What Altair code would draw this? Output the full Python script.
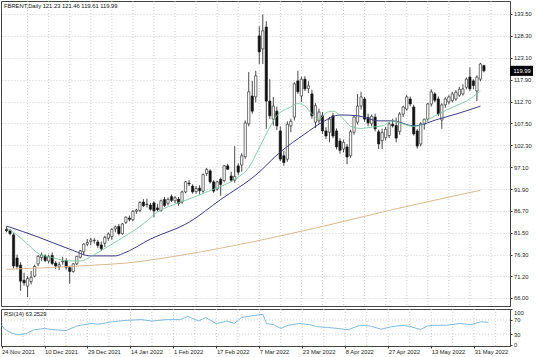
import altair as alt
import pandas as pd

title_text = "FBRENT,Daily  121.23 121.46 119.61 119.99"
rsi_text = "RSI(14) 63.2529"

opens = [82.3, 82.0, 81.0, 75.5, 73.8, 70.2, 68.8, 69.9, 71.2, 74.1,
         75.6, 76.0, 74.8, 76.1, 74.3, 73.4, 74.6, 74.9, 73.2, 72.3,
         74.1, 75.7, 77.0, 78.8, 79.4, 79.6, 79.3, 78.6, 79.0, 80.2,
         80.6, 82.4, 83.0, 81.3, 84.0, 85.0, 84.6, 86.6, 86.8, 88.8,
         88.2, 88.1, 88.6, 87.4, 86.8, 89.4, 88.5, 90.1, 89.1, 89.5,
         88.8, 91.2, 93.3, 92.6, 91.3, 92.1, 91.4, 95.6, 96.2, 93.6,
         91.9, 94.2, 93.9, 97.4, 95.0, 94.0, 97.4, 97.6, 99.6, 107.4,
         114.0, 113.8, 128.3, 125.2, 130.4, 112.8, 108.5, 110.4, 105.7, 99.8,
         99.0, 106.9, 109.0, 117.6, 114.0, 118.0, 115.8, 114.5, 107.8, 108.1,
         109.3, 105.7, 105.4, 109.3, 105.7, 103.3, 101.4, 101.9, 99.8, 105.4,
         107.8, 111.6, 113.3, 108.9, 107.4, 109.0, 105.5, 103.4, 104.1, 104.6,
         107.3, 107.0, 105.6, 109.7, 110.9, 113.3, 111.4, 105.7, 102.6, 107.3,
         108.5, 112.1, 114.5, 113.3, 108.3, 111.9, 112.6, 112.9, 113.3, 114.2,
         114.5, 116.1, 118.5, 117.6, 115.2, 118.0, 121.23]
highs = [83.0, 82.4, 81.4, 76.3, 74.5, 72.0, 71.2, 72.4, 73.9, 76.2,
         76.8, 76.4, 76.3, 76.8, 74.8, 74.6, 75.8, 75.4, 73.6, 74.3,
         76.0, 77.4, 79.0, 80.0, 80.3, 80.2, 79.8, 79.4, 80.8, 81.6,
         82.6, 83.2, 83.6, 83.8, 85.4, 85.6, 86.9, 87.2, 89.0, 89.5,
         89.6, 88.6, 89.0, 88.3, 89.4, 90.0, 89.9, 90.6, 90.2, 90.0,
         91.5, 93.8, 94.0, 93.0, 92.6, 92.8, 95.6, 96.9, 96.6, 94.0,
         93.9, 94.6, 97.6, 97.9, 96.0, 102.1, 98.0, 100.4, 108.2, 119.7,
         117.6, 120.0, 130.6, 133.4, 131.8, 118.0, 113.8, 111.5, 106.8, 101.0,
         108.0, 108.6, 117.3, 120.0, 118.6, 118.7, 117.5, 115.5, 112.3, 111.0,
         110.2, 106.6, 109.0, 110.0, 106.3, 104.0, 103.6, 102.6, 106.0, 109.2,
         114.5, 115.0, 113.8, 109.8, 109.6, 109.8, 106.0, 106.2, 106.7, 107.8,
         108.6, 108.9, 110.2, 111.7, 114.2, 113.9, 111.9, 106.2, 107.8, 108.6,
         112.4, 115.6, 114.9, 113.9, 112.3, 113.7, 114.2, 115.0, 115.4, 116.2,
         116.8, 118.4, 120.8, 118.0, 118.9, 121.9, 121.46]
lows = [81.6, 80.9, 73.0, 72.8, 67.7, 68.9, 66.2, 69.2, 70.9, 73.6,
        74.8, 74.5, 74.2, 73.8, 72.9, 72.6, 73.9, 72.7, 69.4, 72.0,
        73.8, 75.4, 76.2, 78.3, 78.5, 78.9, 77.9, 77.2, 78.1, 79.6,
        79.8, 81.6, 80.9, 81.0, 83.6, 84.2, 84.2, 86.0, 86.4, 87.6,
        87.5, 86.8, 85.2, 86.6, 86.5, 87.6, 88.0, 88.8, 88.5, 87.9,
        88.4, 90.9, 92.6, 90.8, 90.8, 90.6, 91.0, 95.0, 93.2, 91.0,
        91.5, 90.3, 93.5, 96.4, 93.6, 93.4, 95.2, 96.0, 99.0, 106.8,
        109.8, 112.5, 121.6, 121.6, 106.2, 108.5, 107.0, 105.9, 98.5, 97.4,
        98.4, 105.4, 108.2, 114.5, 112.6, 115.2, 114.7, 108.6, 106.4, 107.4,
        105.0, 103.8, 103.0, 104.0, 101.3, 100.3, 100.6, 97.8, 99.3, 104.8,
        107.2, 110.8, 107.9, 106.8, 106.8, 105.6, 101.4, 101.4, 103.4, 104.0,
        106.5, 103.0, 104.8, 109.0, 110.5, 111.6, 104.6, 101.5, 102.0, 106.0,
        108.0, 111.5, 112.5, 109.2, 106.2, 111.2, 112.0, 112.5, 112.9, 113.8,
        114.1, 115.6, 115.2, 115.6, 112.8, 117.5, 119.61]
closes = [82.0, 81.3, 73.6, 73.5, 70.0, 69.6, 70.6, 70.9, 73.5, 75.9,
          76.2, 74.9, 75.8, 74.2, 73.6, 73.9, 74.8, 73.3, 72.3, 74.1,
          75.9, 77.2, 78.8, 79.2, 79.8, 79.7, 78.5, 77.7, 80.4, 81.2,
          82.3, 82.9, 81.3, 83.6, 85.2, 84.7, 86.6, 86.9, 88.7, 87.9,
          88.3, 87.1, 86.7, 87.0, 89.1, 88.0, 89.4, 89.2, 89.8, 88.5,
          91.2, 93.6, 93.1, 91.2, 92.0, 91.5, 95.3, 96.5, 93.6, 91.4,
          93.6, 93.0, 97.4, 96.6, 94.0, 94.9, 95.9, 99.8, 107.6, 115.0,
          110.4, 118.8, 124.5, 129.5, 112.8, 109.3, 111.6, 106.9, 99.0, 98.2,
          107.3, 108.0, 116.9, 115.0, 118.0, 115.7, 116.4, 109.3, 111.7, 110.2,
          105.7, 104.5, 108.5, 104.5, 101.9, 101.1, 103.0, 99.5, 105.5, 109.0,
          111.6, 113.8, 108.5, 107.6, 109.2, 106.2, 102.6, 105.3, 106.1, 107.4,
          106.9, 104.0, 109.7, 111.4, 113.8, 112.1, 105.0, 102.1, 107.4, 108.5,
          112.1, 115.0, 113.0, 109.7, 111.9, 113.3, 113.8, 114.5, 114.9, 115.6,
          115.7, 118.0, 115.7, 116.5, 118.5, 121.6, 119.99]

# moving averages (bar index, price)
ma_fast_bars = [0, 3, 6, 9, 13, 18, 21, 25, 29, 34, 40, 42, 48, 52, 57, 61, 66, 69, 71, 74,
                77, 81, 83, 85, 87, 89, 91, 93, 96, 98, 101, 104, 107, 110, 112, 116, 118,
                120, 123, 128, 131, 135]
ma_fast_vals = [82.6, 81.0, 78.8, 76.6, 75.6, 74.8, 74.8, 76.3, 78.3, 80.8, 84.3, 85.8, 88.3,
                89.5, 91.2, 92.5, 94.7, 97.0, 100.0, 105.0, 109.3, 111.4, 112.2, 111.6, 109.8,
                108.5, 110.0, 110.4, 108.5, 106.8, 106.3, 106.6, 106.9, 108.1, 107.6, 106.8,
                107.0, 108.3, 109.7, 111.7, 112.8, 115.2]
ma_slow_bars = [0, 9, 18, 24, 31, 33, 41, 52, 61, 71, 78, 85, 90, 95, 100, 106, 110, 116, 123,
                128, 135]
ma_slow_vals = [83.1, 80.5, 77.6, 76.0, 76.0, 76.5, 80.0, 84.0, 89.4, 95.2, 100.7, 105.0, 107.8,
                109.5, 109.3, 108.1, 108.1, 106.9, 108.5, 109.7, 111.6]
ma_long_bars = [0, 25, 34, 50, 71, 90, 110, 125, 135]
ma_long_vals = [72.8, 73.8, 74.3, 76.2, 79.5, 83.0, 87.0, 89.8, 91.6]

rsi_bars = [0, 1, 3, 5, 7, 9, 12, 14, 18, 21, 25, 27, 31, 35, 39, 42, 46, 50, 52, 55, 57, 60,
            63, 65, 67, 70, 73, 74, 76, 78, 80, 83, 86, 88, 91, 94, 96, 97, 100, 103, 106, 109,
            112, 114, 117, 119, 121, 124, 128, 131, 134, 136]
rsi_vals = [55, 43, 32, 28, 32, 42, 46, 43, 40, 53, 60, 58, 65, 69, 71, 67, 71, 71, 80, 67, 77,
            60, 67, 60, 77, 82, 86, 60, 57, 46, 55, 60, 57, 51, 49, 46, 43, 43, 55, 53, 44, 51,
            55, 52, 43, 53, 55, 55, 60, 57, 65, 63.25]

price_ticks = [66.00, 71.20, 76.30, 81.50, 86.70, 91.90, 97.10, 102.30, 107.50, 112.70,
               117.90, 123.10, 128.30, 133.50]
date_labels = ["24 Nov 2021", "10 Dec 2021", "29 Dec 2021", "14 Jan 2022", "1 Feb 2022",
               "17 Feb 2022", "7 Mar 2022", "23 Mar 2022", "8 Apr 2022", "27 Apr 2022",
               "13 May 2022", "31 May 2022"]
date_label_bars = [0, 12, 24, 36, 48, 60, 72, 84, 96, 108, 120, 132]
grid_bars = list(range(6, 142, 6))
rsi_levels = [30, 70]
rsi_ticks = [0, 30, 70, 100]

FONT = "Liberation Sans"
FS = 5.8
W = 509
H_MAIN = 305
H_RSI = 37
GRID = "#c4c4c4"

bars = pd.DataFrame({"i": list(range(len(opens))), "o": opens, "h": highs, "l": lows, "c": closes})
xs = alt.Scale(domain=[-0.15, 142], nice=False, zero=False)
ys = alt.Scale(domain=[64.09, 136.59], nice=False, zero=False)
rs = alt.Scale(domain=[-3.5, 101], nice=False, zero=False)

price_axis = alt.Axis(
    orient="right", values=price_ticks, format=".2f", grid=True, gridColor=GRID,
    gridDash=[1, 2], gridWidth=0.8, domain=False, tickSize=2, tickColor="#333",
    labelPadding=1.5, labelFont=FONT, labelFontSize=FS, labelColor="#222", title=None)
label_expr = "[" + ",".join(f"'{d}'" for d in date_labels) + "][round(datum.value / 12)]"
date_axis = alt.Axis(
    orient="bottom", values=date_label_bars, labelExpr=label_expr, labelAlign="left",
    labelBaseline="top", labelPadding=0.5, tickSize=2, tickColor="#333", domain=False,
    grid=False, labelFont=FONT, labelFontSize=FS, labelColor="#222", title=None,
    labelOverlap=False)
rsi_axis = alt.Axis(
    orient="right", values=rsi_ticks, format="d", grid=False, domain=False, tickSize=2,
    tickColor="#333", labelPadding=1.5, labelFlush=True, labelFont=FONT, labelFontSize=FS,
    labelColor="#222", title=None)

def X(field="i"):
    return alt.X(f"{field}:Q", scale=xs, axis=None)

def PY(field):
    return alt.Y(f"{field}:Q", scale=ys, axis=price_axis)

vgrid = alt.Chart(pd.DataFrame({"i": grid_bars})).mark_rule(
    color=GRID, strokeDash=[1, 2], strokeWidth=0.8
).encode(x=X())

wicks = alt.Chart(bars).mark_rule(color="#1a1a1a", strokeWidth=0.8, clip=True).encode(
    x=X(), y=PY("l"), y2="h:Q")
bodies = alt.Chart(bars).mark_bar(size=2.3, stroke="#1a1a1a", strokeWidth=0.6, clip=True).encode(
    x=X(), y=PY("o"), y2="c:Q",
    fill=alt.condition("datum.c >= datum.o", alt.value("white"), alt.value("#111")),
)

def ma_line(b, v, color, width):
    return alt.Chart(pd.DataFrame({"i": b, "v": v})).mark_line(
        color=color, strokeWidth=width, clip=True, interpolate="monotone"
    ).encode(x=X(), y=PY("v"))

fast = ma_line(ma_fast_bars, ma_fast_vals, "#78c8a0", 0.9)
slow = ma_line(ma_slow_bars, ma_slow_vals, "#3a3a86", 1.0)
longma = ma_line(ma_long_bars, ma_long_vals, "#d9b98e", 1.0)

title_mark = alt.Chart(pd.DataFrame({"t": [title_text]})).mark_text(
    align="left", baseline="middle", font=FONT, fontSize=FS, color="#111"
).encode(x=alt.value(3), y=alt.value(5), text="t:N")

last = pd.DataFrame({"c": [closes[-1]], "lbl": [f"{closes[-1]:.2f}"]})
tag_rect = alt.Chart(last).transform_calculate(
    lo="datum.c - 1.2", hi="datum.c + 1.2"
).mark_rect(color="#000").encode(
    x=alt.value(W), x2=alt.value(W + 23), y=PY("lo"), y2="hi:Q")
tag_text = alt.Chart(last).mark_text(
    align="left", baseline="middle", font=FONT, fontSize=FS, color="white"
).encode(x=alt.value(W + 3.5), y=PY("c"), text="lbl:N")

main = alt.layer(vgrid, wicks, bodies, longma, slow, fast, title_mark, tag_rect, tag_text).properties(
    width=W, height=H_MAIN)

# RSI panel
def RX():
    return alt.X("i:Q", scale=xs, axis=date_axis)

def RY():
    return alt.Y("v:Q", scale=rs, axis=rsi_axis)

rgrid = alt.Chart(pd.DataFrame({"i": grid_bars})).mark_rule(
    color=GRID, strokeDash=[1, 2], strokeWidth=0.8
).encode(x=RX())
rlev = alt.Chart(pd.DataFrame({"v": rsi_levels})).mark_rule(
    color=GRID, strokeDash=[1, 2], strokeWidth=0.8
).encode(y=RY())
rline = alt.Chart(pd.DataFrame({"i": rsi_bars, "v": rsi_vals})).mark_line(
    color="#6fb3dc", strokeWidth=0.9, clip=True
).encode(x=RX(), y=RY())
rtitle = alt.Chart(pd.DataFrame({"t": [rsi_text]})).mark_text(
    align="left", baseline="middle", font=FONT, fontSize=FS, color="#111"
).encode(x=alt.value(3), y=alt.value(5), text="t:N")

rsi = alt.layer(rgrid, rlev, rline, rtitle).properties(width=W, height=H_RSI)

chart = alt.vconcat(main, rsi, spacing=1).properties(
    padding={"left": 0, "top": 0, "right": 0, "bottom": 0}, background="white"
).configure_view(stroke="#444", strokeWidth=1)

chart.save("out.html", embed_options={"renderer": "svg", "actions": False})
